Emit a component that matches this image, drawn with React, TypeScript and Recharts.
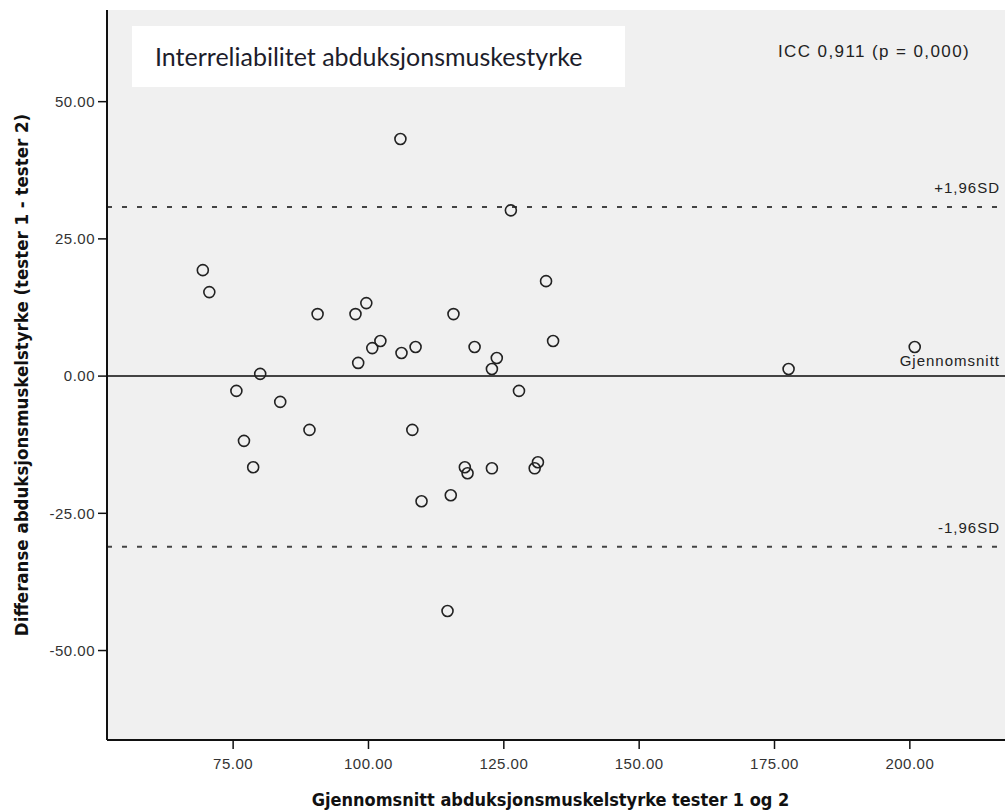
import {
  ScatterChart,
  Scatter,
  XAxis,
  YAxis,
  CartesianGrid,
  ReferenceLine,
} from "recharts"

// Bland-Altman: gjennomsnitt (x) vs differanse (y)
const meanValues = [
  69.4, 70.6, 80.0, 75.6, 83.7, 77.0, 78.7, 89.1, 90.6, 97.6, 99.6, 98.1,
  100.7, 102.2, 106.1, 108.7, 108.1, 115.7, 119.6, 123.7, 122.8, 127.8, 105.9, 126.3,
  132.8, 134.1, 177.6, 200.9, 114.6, 109.8, 115.2, 117.8, 118.3, 122.8, 130.7, 131.3,
]
const diffValues = [
  19.3, 15.3, 0.4, -2.7, -4.7, -11.8, -16.6, -9.8, 11.3, 11.3, 13.3, 2.4,
  5.1, 6.4, 4.2, 5.3, -9.8, 11.3, 5.3, 3.3, 1.3, -2.7, 43.2, 30.2,
  17.3, 6.4, 1.3, 5.3, -42.8, -22.8, -21.7, -16.6, -17.7, -16.8, -16.8, -15.7,
]

const xTicks = [75, 100, 125, 150, 175, 200]
const yTicks = [-50, -25, 0, 25, 50]
const xDomain = [51.7, 218.5]
const yDomain = [-66.3, 66.7]

const meanDiff = 0
const upperLimit = 30.8
const lowerLimit = -31.1

const points = meanValues.map((m, i) => ({ mean: m, diff: diffValues[i] }))

const textFont = "'Liberation Sans', Arial, sans-serif"
const boldFont = "'Liberation Sans Narrow', 'DejaVu Sans Condensed', Arial, sans-serif"

const lineLabel = (text: string, dy: number) => (props: any) => {
  const vb = props.viewBox
  return (
    <text
      x={vb.x + vb.width - 10}
      y={vb.y - dy}
      textAnchor="end"
      fontFamily={textFont}
      fontSize={15}
      letterSpacing={1}
      fill="#222"
    >
      {text}
    </text>
  )
}

const XLabel = (props: any) => {
  const vb = props.viewBox
  return (
    <text
      x={vb.x + vb.width / 2 - 8}
      y={vb.y + 66}
      textAnchor="middle"
      fontFamily={boldFont}
      fontWeight="bold"
      fontSize={18}
      fill="#111"
    >
      Gjennomsnitt abduksjonsmuskelstyrke tester 1 og 2
    </text>
  )
}

const YLabel = (props: any) => {
  const vb = props.viewBox
  const cx = 21
  const cy = vb.y + vb.height / 2
  return (
    <text
      x={cx}
      y={cy}
      transform={`rotate(-90, ${cx}, ${cy})`}
      textAnchor="middle"
      dominantBaseline="central"
      fontFamily={boldFont}
      fontWeight="bold"
      fontSize={18.5}
      fill="#111"
    >
      Differanse abduksjonsmuskelstyrke (tester 1 - tester 2)
    </text>
  )
}

const tickStyle = { fontFamily: textFont, fontSize: 15, fill: "#333", letterSpacing: 0.5 }

export default function App() {
  return (
    <div
      style={{
        position: "absolute",
        left: 0,
        top: 0,
        width: 1005,
        height: 812,
        overflow: "hidden",
        background: "#fff",
      }}
    >
      <ScatterChart width={1015} height={812} margin={{ top: 10, right: 5, bottom: 0, left: 37 }}>
        <CartesianGrid horizontal={false} vertical={false} fill="#f0f0f0" />
        <XAxis
          xAxisId="top"
          orientation="top"
          type="number"
          dataKey="mean"
          domain={xDomain}
          allowDataOverflow
          height={0}
          tick={false}
          tickLine={false}
          axisLine={{ stroke: "#777", strokeWidth: 2 }}
        />
        <XAxis
          type="number"
          dataKey="mean"
          domain={xDomain}
          ticks={xTicks}
          allowDataOverflow
          height={72}
          tickSize={9}
          tickMargin={9}
          tickFormatter={(v: number) => v.toFixed(2)}
          tick={tickStyle}
          tickLine={{ stroke: "#111", strokeWidth: 1.5 }}
          axisLine={{ stroke: "#111", strokeWidth: 2 }}
          label={<XLabel />}
        />
        <YAxis
          type="number"
          dataKey="diff"
          domain={yDomain}
          ticks={yTicks}
          allowDataOverflow
          width={70}
          tickSize={9}
          tickMargin={3}
          tickFormatter={(v: number) => v.toFixed(2)}
          tick={tickStyle}
          tickLine={{ stroke: "#111", strokeWidth: 1.5 }}
          axisLine={{ stroke: "#111", strokeWidth: 2 }}
          label={<YLabel />}
        />
        <ReferenceLine
          y={upperLimit}
          stroke="#444"
          strokeWidth={2}
          strokeDasharray="5 10"
          label={lineLabel("+1,96SD", 14)}
        />
        <ReferenceLine
          y={meanDiff}
          stroke="#444"
          strokeWidth={2}
          label={lineLabel("Gjennomsnitt", 10)}
        />
        <ReferenceLine
          y={lowerLimit}
          stroke="#444"
          strokeWidth={2}
          strokeDasharray="5 10"
          label={lineLabel("-1,96SD", 14)}
        />
        <Scatter
          data={points}
          isAnimationActive={false}
          shape={(p: any) => (
            <circle cx={p.cx} cy={p.cy} r={5.5} fill="none" stroke="#222" strokeWidth={1.6} />
          )}
        />
      </ScatterChart>
      <div
        style={{
          position: "absolute",
          left: 132,
          top: 26,
          width: 493,
          height: 61,
          background: "#fff",
          boxSizing: "border-box",
          paddingLeft: 23,
          lineHeight: "60px",
          fontFamily: "Lato, 'Open Sans', sans-serif",
          fontSize: 25,
          color: "#1d1d2b",
          whiteSpace: "nowrap",
        }}
      >
        Interreliabilitet abduksjonsmuskestyrke
      </div>
      <div
        style={{
          position: "absolute",
          left: 778,
          top: 42,
          fontFamily: textFont,
          fontSize: 17,
          letterSpacing: 1.4,
          color: "#222",
          whiteSpace: "nowrap",
        }}
      >
        ICC 0,911 (p = 0,000)
      </div>
    </div>
  )
}
